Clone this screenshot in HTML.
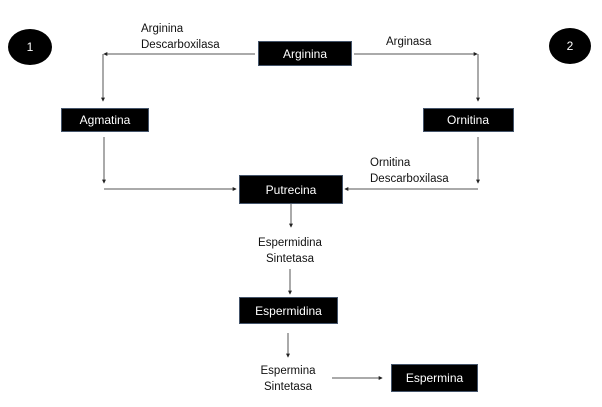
<!DOCTYPE html>
<html><head><meta charset="utf-8"><style>
html,body{margin:0;padding:0;background:#fff;}
svg{display:block;}
text{font-family:"Liberation Sans",sans-serif;}
</style></head><body>
<svg width="602" height="407" viewBox="0 0 602 407" xmlns="http://www.w3.org/2000/svg">
<defs>
<marker id="ah" viewBox="0 0 6 6" refX="5" refY="3" markerWidth="4" markerHeight="4" orient="auto" markerUnits="userSpaceOnUse">
<path d="M0,0 L6,3 L0,6 z" fill="#222"/>
</marker>
</defs>
<rect width="602" height="407" fill="#fff"/>
<!-- circles -->
<ellipse cx="30" cy="47" rx="22" ry="18" fill="#000"/>
<text x="30" y="51" fill="#fff" font-size="12" text-anchor="middle">1</text>
<ellipse cx="570" cy="46" rx="21" ry="18" fill="#000"/>
<text x="570" y="50" fill="#fff" font-size="12" text-anchor="middle">2</text>

<g stroke="#555" stroke-width="1" fill="none">
<!-- Arginina left -->
<line x1="255" y1="54" x2="104" y2="54" marker-end="url(#ah)"/>
<line x1="103" y1="54" x2="103" y2="101" marker-end="url(#ah)"/>
<!-- Arginina right -->
<line x1="354" y1="54" x2="477" y2="54" marker-end="url(#ah)"/>
<line x1="478" y1="54" x2="478" y2="101" marker-end="url(#ah)"/>
<!-- Agmatina down -->
<line x1="104" y1="137" x2="104" y2="183" marker-end="url(#ah)"/>
<line x1="104" y1="189" x2="236" y2="189" marker-end="url(#ah)"/>
<!-- Ornitina down -->
<line x1="478" y1="137" x2="478" y2="183" marker-end="url(#ah)"/>
<line x1="478" y1="189" x2="345" y2="189" marker-end="url(#ah)"/>
<!-- Putrecina down -->
<line x1="291" y1="203" x2="291" y2="227" marker-end="url(#ah)"/>
<line x1="290" y1="269" x2="290" y2="294" marker-end="url(#ah)"/>
<line x1="288" y1="333" x2="288" y2="357" marker-end="url(#ah)"/>
<line x1="332" y1="378" x2="382" y2="378" marker-end="url(#ah)"/>
</g>

<!-- boxes -->
<g fill="#000" stroke="#44546a" stroke-width="1">
<rect x="258.5" y="41.5" width="93" height="24"/>
<rect x="61.5" y="108.5" width="87" height="23"/>
<rect x="423.5" y="108.5" width="90" height="23"/>
<rect x="239.5" y="175.5" width="103" height="28"/>
<rect x="239.5" y="297.5" width="98" height="26"/>
<rect x="391.5" y="364.5" width="86" height="27"/>
</g>
<g fill="#fff" font-size="12" text-anchor="middle">
<text x="305" y="58">Arginina</text>
<text x="105" y="124">Agmatina</text>
<text x="468" y="124">Ornitina</text>
<text x="291" y="194">Putrecina</text>
<text x="288.5" y="315">Espermidina</text>
<text x="434.5" y="382">Espermina</text>
</g>

<!-- labels -->
<g fill="#111" font-size="11.5">
<text x="141" y="32">Arginina</text>
<text x="141" y="48">Descarboxilasa</text>
<text x="386" y="45">Arginasa</text>
<text x="370" y="166">Ornitina</text>
<text x="370" y="182">Descarboxilasa</text>
<text x="290" y="246" text-anchor="middle">Espermidina</text>
<text x="290" y="262" text-anchor="middle">Sintetasa</text>
<text x="288" y="374" text-anchor="middle">Espermina</text>
<text x="288" y="390" text-anchor="middle">Sintetasa</text>
</g>
</svg>
</body></html>
